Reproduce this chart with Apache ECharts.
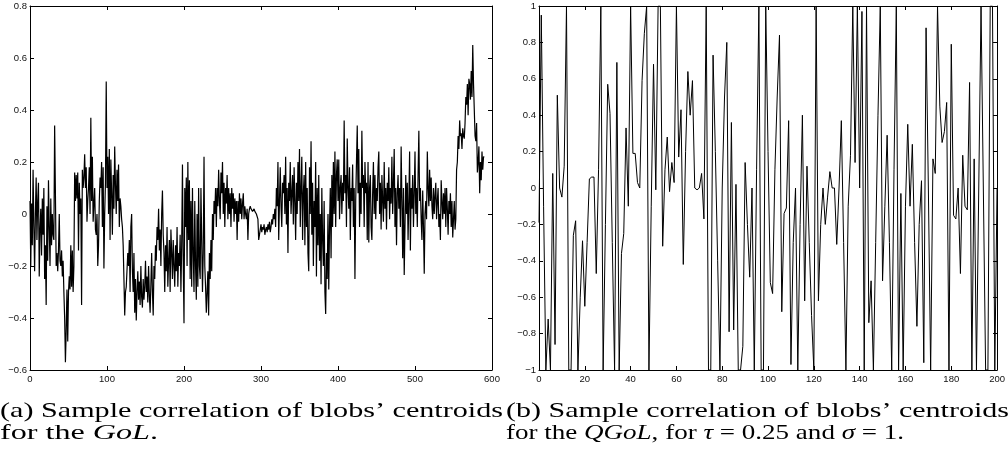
<!DOCTYPE html>
<html>
<head>
<meta charset="utf-8">
<title>Sample correlation of blobs' centroids</title>
<script src="https://cdn.jsdelivr.net/npm/echarts@6/dist/echarts.min.js"></script>
<style>
  html, body { margin: 0; padding: 0; background: #fff; }
  #chart { width: 1008px; height: 463px; }
</style>
</head>
<body>
<div id="chart"></div>
<script>
// (a) GoL: sample correlation, one value per step 0..590
const golCorr = [
  0.05, -0.2, 0.04, -0.12, 0.17, -0.05, -0.22, 0.0, 0.14, -0.1,
  0.05, 0.12, -0.24, -0.06, 0.02, -0.16, 0.06, -0.08, 0.1, -0.25,
  -0.12, -0.35, 0.03, -0.18, 0.13, -0.05, -0.2, 0.06, -0.12, 0.0,
  -0.08, -0.1, 0.34, 0.08, -0.2, -0.15, -0.22, -0.14, 0.0, -0.18,
  -0.2, -0.14, -0.24, -0.18, -0.3, -0.4, -0.57, -0.45, -0.29, -0.49,
  -0.3, -0.24, -0.29, -0.12, -0.28, -0.14, -0.3, -0.2, 0.16, 0.05,
  0.15, 0.06, 0.16, -0.14, 0.12, 0.0, 0.06, -0.35, 0.17, 0.1,
  0.14, 0.23, 0.1, 0.18, -0.03, 0.05, 0.1, 0.18, 0.0, 0.37,
  0.05, 0.22, -0.03, 0.04, 0.1, -0.06, -0.08, 0.0, -0.2, -0.12,
  0.05, 0.14, 0.1, 0.2, -0.05, 0.18, -0.21, 0.0, 0.12, 0.51,
  0.1, 0.22, 0.0, 0.25, -0.1, 0.21, 0.08, -0.08, 0.15, 0.02,
  0.26, 0.11, 0.0, 0.17, 0.05, 0.19, -0.05, 0.06, 0.03, -0.02,
  -0.05, -0.12, -0.25, -0.39, -0.3, -0.28, -0.28, -0.15, -0.2, -0.1,
  -0.3, -0.05, 0.0, -0.22, -0.3, -0.15, -0.38, -0.25, -0.41, -0.3,
  -0.22, -0.33, -0.26, -0.35, -0.2, -0.32, -0.36, -0.25, -0.33, -0.28,
  -0.18, -0.3, -0.24, -0.34, -0.2, -0.31, -0.38, -0.27, -0.15, -0.3,
  -0.39, -0.2, -0.25, -0.12, -0.18, -0.05, -0.1, 0.02, -0.14, -0.06,
  -0.2, 0.0, 0.09, -0.08, -0.15, -0.3, -0.12, -0.22, -0.05, -0.28,
  -0.18, -0.1, -0.3, -0.06, -0.15, -0.25, -0.1, -0.2, -0.28, -0.12,
  -0.22, -0.05, -0.28, -0.15, -0.2, -0.08, -0.3, -0.12, 0.19, -0.18,
  -0.42, 0.1, -0.05, 0.14, -0.2, 0.2, -0.1, 0.13, -0.25, 0.05,
  -0.28, 0.1, -0.15, -0.3, 0.05, -0.2, -0.33, 0.0, -0.28, 0.1,
  -0.2, -0.25, 0.1, -0.1, -0.3, -0.15, 0.22, -0.2, -0.28, -0.38,
  -0.3, -0.22, -0.39, -0.15, -0.25, -0.1, -0.22, 0.0, -0.1, 0.05,
  0.0, 0.1, -0.05, 0.1, 0.03, 0.17, 0.05, -0.02, 0.16, 0.08,
  0.2, 0.0, 0.12, -0.05, 0.1, 0.04, 0.15, -0.02, 0.1, 0.0,
  0.08, -0.05, 0.1, 0.02, 0.08, -0.03, 0.06, 0.0, 0.05, -0.1,
  0.05, -0.03, 0.08, 0.0, 0.06, -0.02, 0.04, 0.08, -0.02, 0.03,
  0.0, -0.02, 0.02, -0.1, 0.0, 0.02, 0.03, 0.02, 0.02, 0.01,
  0.01, 0.02, 0.01, 0.01, 0.0, 0.0, -0.02, -0.1, -0.08, -0.06,
  -0.04, -0.07, -0.05, -0.06, -0.04, -0.08, -0.06, -0.05, -0.07, -0.04,
  -0.06, -0.03, -0.07, -0.05, -0.02, -0.04, 0.0, -0.02, 0.02, -0.05,
  0.1, 0.03, 0.2, -0.1, 0.05, 0.18, 0.03, -0.05, 0.12, 0.08,
  0.15, 0.0, 0.22, -0.04, 0.1, -0.15, 0.12, 0.05, 0.2, 0.0,
  0.08, 0.15, -0.04, 0.18, 0.05, -0.1, 0.12, 0.0, 0.2, 0.05,
  0.25, -0.05, 0.1, 0.22, -0.1, 0.08, 0.15, -0.12, 0.2, -0.05,
  0.1, -0.15, -0.22, 0.18, 0.0, 0.28, -0.08, 0.12, -0.2, 0.05,
  -0.05, 0.2, -0.24, 0.1, -0.12, 0.15, -0.18, 0.0, -0.27, 0.1,
  -0.1, -0.2, 0.05, -0.3, -0.385, -0.15, -0.25, 0.0, -0.29, -0.05,
  0.1, -0.17, 0.15, -0.05, 0.2, 0.0, 0.24, -0.05, 0.15, 0.21,
  0.05, 0.21, -0.02, 0.1, 0.15, 0.0, 0.12, 0.05, 0.36, 0.08,
  0.15, -0.05, 0.29, 0.1, 0.02, 0.18, -0.1, 0.1, 0.05, 0.19,
  -0.05, 0.1, -0.25, 0.05, 0.2, 0.34, 0.08, 0.25, -0.05, 0.12,
  0.0, 0.32, 0.1, 0.15, -0.05, 0.2, 0.08, 0.12, -0.1, 0.2,
  -0.11, 0.1, 0.15, -0.05, -0.1, 0.08, 0.2, 0.0, 0.15, -0.02,
  0.1, 0.05, 0.18, 0.24, 0.0, 0.12, -0.06, 0.15, 0.05, -0.03,
  0.2, 0.02, 0.1, -0.06, 0.12, 0.05, 0.18, -0.02, 0.1, 0.04,
  0.22, 0.0, 0.12, 0.25, -0.05, 0.1, -0.12, 0.08, 0.15, 0.02,
  0.1, -0.05, 0.26, 0.05, -0.17, 0.1, -0.235, -0.05, 0.15, 0.0,
  0.12, -0.1, 0.05, 0.24, -0.14, 0.1, 0.02, 0.15, -0.05, 0.08,
  0.24, 0.0, 0.1, -0.05, 0.15, 0.32, 0.05, 0.1, -0.02, -0.1,
  0.09, -0.05, -0.23, 0.0, 0.05, -0.02, 0.24, 0.1, 0.03, 0.17,
  0.05, 0.14, 0.03, -0.02, 0.1, 0.0, 0.07, 0.12, -0.02, 0.05,
  0.1, -0.05, 0.0, -0.1, 0.13, 0.05, -0.02, 0.08, 0.0, 0.1,
  -0.05, 0.1, 0.02, -0.08, 0.05, 0.0, 0.08, -0.05, 0.05, -0.09,
  -0.02, 0.05, -0.06, -0.02, 0.17, 0.2, 0.3, 0.25, 0.36, 0.3,
  0.31, 0.25, 0.33, 0.3, 0.29, 0.35, 0.45, 0.42, 0.5, 0.38,
  0.52, 0.5, 0.44, 0.55, 0.45, 0.65, 0.5, 0.4, 0.3, 0.28,
  0.35, 0.16, 0.2, 0.26, 0.08, 0.2, 0.13, 0.24, 0.17, 0.22,
  0.22
];

// (b) QGoL, tau = 0.25, sigma = 1: one value per step 0..200
const qgolCorr = [
  -0.19, 0.95, -0.1, -1, -0.72, -1, 0.08, -0.86, 0.51, 0.0,
  -0.05, 0.12, 1, -1, -1, -0.26, -0.18, -1, -0.6, -0.29,
  -0.65, -0.3, 0.05, 0.06, 0.06, -0.47, 0.1, 1, -1, -0.2,
  0.57, 0.41, -0.3, -1, 0.69, -1, -0.36, -0.25, 0.33, -0.1,
  1, 0.19, 0.19, 0.03, 0.0, 0.59, 0.85, 1, -1, -0.1,
  0.68, -0.01, 1, 1, -0.32, 0.1, 0.28, -0.02, 0.14, 0.03,
  1, 0.17, 0.43, -0.42, 0.2, 0.64, 0.4, 0.59, 0.0, -0.01,
  0.0, 0.08, -0.17, 1, -1, -1, 0.73, 0.2, -0.4, -1,
  0.0, 0.5, 0.8, -0.79, 0.36, -0.78, 0.02, -1, -1, -0.87,
  0.14, -0.2, -0.49, 0.0, -1, 0.1, 1, -1, -1, 1,
  0.2, -0.52, -0.58, 0.1, 0.5, 0.84, -0.68, -0.14, -0.11, 0.37,
  -0.97, -0.3, 0.0, -1, -0.2, 0.4, -0.62, 0.12, -0.3, -0.7,
  -1, 1, -0.62, -0.2, 0.0, -0.2, -0.05, 0.09, 0.0, 0.0,
  -0.31, 0.0, 0.37, -0.3, -1, -0.1, 0.18, 1, 0.14, 1,
  0.0, 0.97, -1, 1, -0.74, -0.51, -1, -0.3, 0.4, 1,
  -0.51, -0.1, 0.29, -0.3, -1, 0.1, 1, -1, -0.03, -1,
  -0.1, 0.35, -0.1, 0.24, -0.3, -0.76, -0.2, 0.04, -0.96, 0.88,
  0.0, -1, 0.16, 0.08, 1, 0.45, 0.25, 0.31, 0.47, -1,
  0.79, -0.15, -0.17, 0.0, -0.47, 0.18, -0.1, -0.12, 0.58, -1,
  0.16, -1, 0.0, 1, 0.0, -1, -1, 1, 1, -1,
  0.0
];

// axis ranges: [min, max, step]
const golX = [0, 600, 100];
const golY = [-0.6, 0.8, 0.2];
const qgolX = [0, 200, 20];
const qgolY = [-1, 1, 0.2];

// captions, as [text, italic]
const capA1 = [['(a) Sample correlation of blobs\u2019 centroids', false]];
const capA2 = [['for the ', false], ['GoL', true], ['.', false]];
const capB1 = [['(b) Sample correlation of blobs\u2019 centroids', false]];
const capB2 = [['for the ', false], ['QGoL', true], [', for ', false], ['\u03c4', true],
  [' = 0.25 and ', false], ['\u03c3', true], [' = 1.', false]];

const TICK_FONT = '"Liberation Sans", Arial, sans-serif';
const CAP_FONT = '"Liberation Serif", "Times New Roman", serif';
const CAP_SIZE = 21;

function tickLabel(v) {
  const n = Math.round(v * 10) / 10;
  if (n === 0) return '0';
  return (n < 0 ? '\u2212' : '') + Math.abs(n);
}

function makeAxis(dim, gridIndex, range, position, labels) {
  return {
    type: 'value',
    gridIndex: gridIndex,
    position: position,
    min: range[0],
    max: range[1],
    interval: range[2],
    axisLine: { show: true, onZero: false, lineStyle: { color: '#000', width: 1 } },
    axisTick: { show: true, inside: true, length: 4, lineStyle: { color: '#000', width: 1 } },
    axisLabel: {
      show: labels,
      margin: dim === 'x' ? 4 : 3,
      fontSize: 9.5,
      fontFamily: TICK_FONT,
      color: '#111',
      formatter: tickLabel
    },
    splitLine: { show: false }
  };
}

const measureCtx = document.createElement('canvas').getContext('2d');
function capWidth(parts) {
  let w = 0;
  parts.forEach(function (p) {
    measureCtx.font = (p[1] ? 'italic ' : '') + CAP_SIZE + 'px ' + CAP_FONT;
    w += measureCtx.measureText(p[0]).width;
  });
  return w;
}

// caption line stretched to the width it takes in the figure
function caption(parts, x, y, target) {
  return {
    type: 'text',
    x: x,
    y: y,
    scaleX: target / capWidth(parts),
    style: {
      text: parts.map(function (p) { return '{' + (p[1] ? 'i' : 'r') + '|' + p[0] + '}'; }).join(''),
      align: 'left',
      verticalAlign: 'middle',
      fill: '#000',
      rich: {
        r: { fontFamily: CAP_FONT, fontSize: CAP_SIZE, fill: '#000', color: '#000' },
        i: { fontFamily: CAP_FONT, fontSize: CAP_SIZE, fontStyle: 'italic', fill: '#000', color: '#000' }
      }
    }
  };
}

const chart = echarts.init(document.getElementById('chart'));

const option = {
  animation: false,
  backgroundColor: '#fff',
  grid: [
    { left: 30, top: 6, width: 462, height: 364 },
    { left: 539, top: 6, width: 461, height: 364 }
  ],
  xAxis: [
    makeAxis('x', 0, golX, 'bottom', true),
    makeAxis('x', 0, golX, 'top', false),
    makeAxis('x', 1, qgolX, 'bottom', true),
    makeAxis('x', 1, qgolX, 'top', false)
  ],
  yAxis: [
    makeAxis('y', 0, golY, 'left', true),
    makeAxis('y', 0, golY, 'right', false),
    makeAxis('y', 1, qgolY, 'left', true),
    makeAxis('y', 1, qgolY, 'right', false)
  ],
  series: [
    {
      name: 'GoL',
      type: 'line',
      xAxisIndex: 0,
      yAxisIndex: 0,
      symbol: 'none',
      lineStyle: { color: '#000', width: 1.2 },
      data: golCorr.map(function (v, i) { return [i, v]; })
    },
    {
      name: 'QGoL',
      type: 'line',
      xAxisIndex: 2,
      yAxisIndex: 2,
      symbol: 'none',
      lineStyle: { color: '#000', width: 1 },
      data: qgolCorr.map(function (v, i) { return [i, v]; })
    }
  ],
  graphic: [
    caption(capA1, 0, 411, 503),
    caption(capA2, 0, 433, 158),
    caption(capB1, 506, 411, 503),
    caption(capB2, 506, 433, 398)
  ]
};

chart.setOption(option);
</script>
</body>
</html>
